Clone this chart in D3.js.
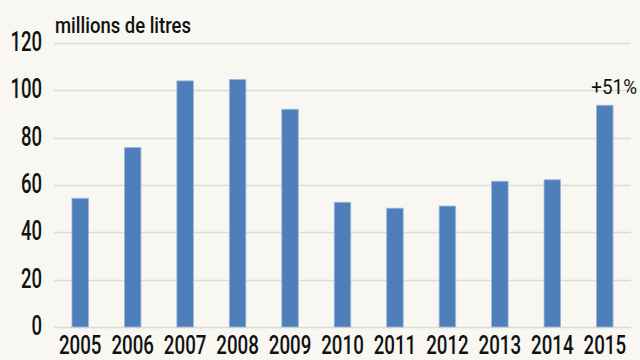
<!DOCTYPE html>
<html>
<head>
<meta charset="utf-8">
<script src="https://cdn.jsdelivr.net/npm/d3@7/dist/d3.min.js"></script>
<style>
  html, body { margin: 0; padding: 0; background: #f8f7f1; }
  svg { display: block; }
  text { font-family: Roboto, "Liberation Sans", sans-serif; fill: #111; }
</style>
</head>
<body>
<svg id="chart" width="640" height="360"></svg>
<script>
// Annual volumes, millions of litres
const years = ["2005", "2006", "2007", "2008", "2009", "2010", "2011", "2012", "2013", "2014", "2015"];
const volumes = [54.4, 75.8, 104.0, 104.6, 92.0, 52.7, 50.2, 51.1, 61.6, 62.2, 93.7];
const yTicks = [0, 20, 40, 60, 80, 100, 120];
const unitLabel = "millions de litres";
const growthLabel = "+51%";

const W = 640, H = 360;
const margin = { top: 43, right: 9, bottom: 33, left: 54 };
const svg = d3.select("#chart");

svg.append("rect").attr("width", W).attr("height", H).attr("fill", "#f8f7f1");

const x = d3.scaleBand()
  .domain(years)
  .range([margin.left, W - margin.right])
  .paddingInner(0.685)
  .paddingOuter(0.3425);

const y = d3.scaleLinear()
  .domain([0, 120])
  .range([H - margin.bottom, margin.top]);

// Horizontal gridlines
svg.append("g")
  .selectAll("line")
  .data(yTicks)
  .join("line")
  .attr("x1", margin.left)
  .attr("x2", W - margin.right)
  .attr("y1", d => Math.round(y(d)) + 0.5)
  .attr("y2", d => Math.round(y(d)) + 0.5)
  .attr("stroke", "#dcdbd6")
  .attr("stroke-width", 1.5);

// Bars
svg.append("g")
  .selectAll("rect")
  .data(volumes)
  .join("rect")
  .attr("x", (d, i) => x(years[i]))
  .attr("width", x.bandwidth())
  .attr("y", d => y(d))
  .attr("height", d => y(0) - y(d))
  .attr("fill", "#4f7fbb")
  .attr("stroke", "#9db8dc")
  .attr("stroke-width", 0.8);

// Condensed text: horizontal squeeze applied around the anchor point
function condensed(sel, sx) {
  return sel.attr("transform", function () {
    const tx = +this.getAttribute("data-x"), ty = +this.getAttribute("data-y");
    return `translate(${tx},${ty}) scale(${sx},1)`;
  });
}

// Y axis labels
svg.append("g")
  .selectAll("text")
  .data(yTicks)
  .join("text")
  .attr("data-x", 42)
  .attr("data-y", d => y(d) + 8)
  .attr("text-anchor", "end")
  .attr("font-size", 28)
  .attr("font-weight", 500)
  .text(d => d)
  .call(condensed, 0.66);

// X axis labels
svg.append("g")
  .selectAll("text")
  .data(years)
  .join("text")
  .attr("data-x", d => x(d) + x.bandwidth() / 2)
  .attr("data-y", 354)
  .attr("text-anchor", "middle")
  .attr("font-size", 26)
  .attr("font-weight", 500)
  .text(d => d)
  .call(condensed, 0.72);

// Unit label
svg.append("text")
  .attr("data-x", 55)
  .attr("data-y", 33)
  .attr("font-size", 22)
  .attr("font-weight", 500)
  .text(unitLabel)
  .call(condensed, 0.84);

// Growth annotation above the last bar
const last = volumes.length - 1;
svg.append("text")
  .attr("data-x", 637)
  .attr("data-y", y(volumes[last]) - 11)
  .attr("text-anchor", "end")
  .attr("font-size", 21)
  .attr("font-weight", 400)
  .text(growthLabel)
  .call(condensed, 0.9);
</script>
</body>
</html>
